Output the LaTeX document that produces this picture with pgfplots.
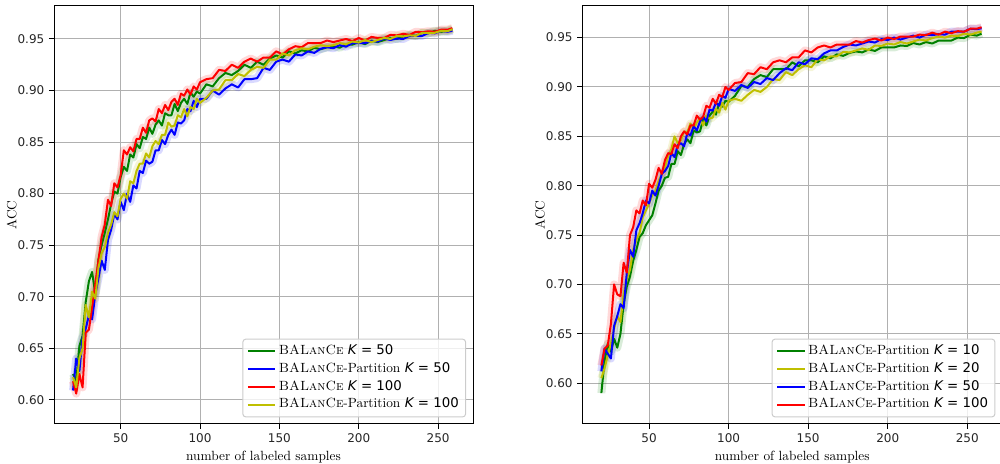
\documentclass[border=0pt]{standalone}
\usepackage{fontspec}
\usepackage{pgfplots}
\pgfplotsset{compat=1.18}
\usepackage{pgfplotstable}
\newfontfamily\dejavu{DejaVu Sans}
\definecolor{mplgreen}{rgb}{0,0.5,0}
\definecolor{mplblue}{rgb}{0,0,1}
\definecolor{mplred}{rgb}{1,0,0}
\definecolor{mplyellow}{rgb}{0.75,0.75,0}
\definecolor{gridgray}{HTML}{B0B0B0}
\definecolor{legedge}{HTML}{CCCCCC}
\newcommand{\bal}{\textsc{BALanCe}}
\newcommand{\K}[1]{{\dejavu\itshape K} {\dejavu = #1}}

\pgfplotstableread{
x g b r y
20 0.625 0.609 0.618 0.622
22 0.618 0.640 0.606 0.612
24 0.652 0.628 0.625 0.640
26 0.662 0.660 0.612 0.650
28 0.695 0.669 0.665 0.692
30 0.715 0.682 0.668 0.680
32 0.724 0.678 0.690 0.705
34 0.703 0.702 0.712 0.698
36 0.736 0.718 0.735 0.728
38 0.750 0.735 0.758 0.742
40 0.762 0.726 0.770 0.748
42 0.775 0.755 0.794 0.762
44 0.790 0.765 0.788 0.770
46 0.802 0.780 0.810 0.782
48 0.800 0.775 0.806 0.778
50 0.816 0.792 0.818 0.795
52 0.826 0.784 0.842 0.800
54 0.822 0.800 0.838 0.795
56 0.838 0.792 0.845 0.812
58 0.835 0.808 0.841 0.810
60 0.848 0.805 0.853 0.822
62 0.844 0.822 0.853 0.829
64 0.855 0.820 0.864 0.829
66 0.853 0.832 0.859 0.839
68 0.864 0.829 0.871 0.835
70 0.858 0.831 0.873 0.846
72 0.867 0.842 0.870 0.851
74 0.871 0.842 0.882 0.848
76 0.866 0.852 0.878 0.857
78 0.878 0.848 0.886 0.857
80 0.876 0.857 0.881 0.869
82 0.876 0.862 0.889 0.865
84 0.887 0.857 0.892 0.866
86 0.880 0.869 0.886 0.876
88 0.888 0.868 0.897 0.874
90 0.892 0.871 0.895 0.882
92 0.887 0.882 0.901 0.875
94 0.898 0.880 0.896 0.884
96 0.894 0.890 0.904 0.882
98 0.899 0.884 0.901 0.892
100 0.897 0.892 0.908 0.888
104 0.906 0.892 0.911 0.893
108 0.904 0.900 0.912 0.900
112 0.912 0.896 0.920 0.901
116 0.917 0.902 0.919 0.910
120 0.915 0.906 0.925 0.910
124 0.919 0.903 0.922 0.916
128 0.925 0.911 0.928 0.914
132 0.922 0.911 0.931 0.920
136 0.928 0.912 0.928 0.923
140 0.925 0.922 0.932 0.922
144 0.931 0.920 0.932 0.930
148 0.934 0.928 0.938 0.930
152 0.932 0.930 0.935 0.936
156 0.938 0.928 0.940 0.934
160 0.936 0.935 0.943 0.939
164 0.939 0.934 0.942 0.941
168 0.938 0.938 0.946 0.940
172 0.9415 0.9365 0.946 0.9425
176 0.940 0.9405 0.946 0.944
180 0.942 0.942 0.9485 0.943
184 0.943 0.941 0.947 0.944
188 0.9415 0.944 0.9485 0.946
192 0.945 0.9425 0.950 0.945
196 0.9445 0.946 0.948 0.9475
200 0.947 0.946 0.951 0.9465
204 0.945 0.946 0.9485 0.949
208 0.9485 0.948 0.952 0.947
212 0.947 0.9475 0.951 0.949
216 0.949 0.9505 0.951 0.951
220 0.951 0.949 0.954 0.950
224 0.950 0.9505 0.9535 0.953
228 0.9525 0.950 0.955 0.9525
232 0.954 0.953 0.954 0.9535
236 0.953 0.953 0.957 0.953
240 0.956 0.953 0.9565 0.956
244 0.9555 0.956 0.9575 0.956
248 0.958 0.9555 0.957 0.956
252 0.957 0.958 0.959 0.958
256 0.958 0.957 0.959 0.9575
259 0.9595 0.958 0.9605 0.9595
}\leftdata

\pgfplotstableread{
x g y b r
20 0.590 0.605 0.612 0.618
22 0.622 0.615 0.635 0.635
24 0.640 0.628 0.630 0.638
26 0.632 0.640 0.625 0.660
28 0.645 0.655 0.658 0.700
30 0.636 0.668 0.668 0.690
32 0.650 0.662 0.680 0.688
34 0.680 0.690 0.676 0.722
36 0.698 0.705 0.712 0.712
38 0.708 0.715 0.735 0.750
40 0.724 0.735 0.728 0.758
42 0.735 0.745 0.755 0.775
44 0.748 0.752 0.762 0.772
46 0.752 0.768 0.772 0.785
48 0.760 0.775 0.785 0.780
50 0.765 0.782 0.782 0.802
52 0.770 0.790 0.795 0.798
54 0.782 0.795 0.790 0.806
56 0.795 0.805 0.800 0.818
58 0.800 0.812 0.812 0.812
60 0.808 0.818 0.815 0.826
62 0.809 0.830 0.820 0.833
64 0.822 0.837 0.833 0.832
66 0.822 0.850 0.829 0.842
68 0.835 0.843 0.841 0.838
70 0.831 0.846 0.843 0.850
72 0.842 0.855 0.840 0.855
74 0.847 0.854 0.853 0.852
76 0.843 0.863 0.851 0.861
78 0.856 0.857 0.860 0.861
80 0.854 0.864 0.856 0.871
82 0.855 0.868 0.865 0.867
84 0.867 0.861 0.870 0.870
86 0.861 0.871 0.865 0.881
88 0.871 0.868 0.877 0.879
90 0.875 0.869 0.876 0.888
92 0.872 0.878 0.884 0.883
94 0.883 0.874 0.881 0.892
96 0.880 0.884 0.891 0.890
98 0.886 0.877 0.889 0.900
100 0.885 0.886 0.898 0.897
104 0.891 0.888 0.896 0.904
108 0.901 0.886 0.902 0.905
112 0.900 0.892 0.899 0.914
116 0.908 0.897 0.905 0.913
120 0.912 0.895 0.903 0.920
124 0.910 0.900 0.909 0.918
128 0.918 0.908 0.907 0.925
132 0.918 0.907 0.914 0.927
136 0.918 0.915 0.919 0.925
140 0.925 0.912 0.917 0.930
144 0.921 0.918 0.925 0.930
148 0.927 0.922 0.923 0.937
152 0.927 0.920 0.929 0.935
156 0.925 0.928 0.928 0.940
160 0.931 0.927 0.934 0.942
164 0.929 0.931 0.937 0.940
168 0.933 0.931 0.937 0.943
172 0.9315 0.9355 0.9405 0.943
176 0.9345 0.935 0.943 0.943
180 0.936 0.937 0.942 0.9465
184 0.935 0.939 0.944 0.945
188 0.938 0.9375 0.946 0.9475
192 0.9365 0.942 0.945 0.949
196 0.940 0.9415 0.9485 0.947
200 0.940 0.944 0.9475 0.950
204 0.940 0.943 0.950 0.9485
208 0.942 0.9455 0.948 0.951
212 0.9415 0.944 0.950 0.951
216 0.9445 0.946 0.952 0.951
220 0.943 0.948 0.950 0.953
224 0.9455 0.947 0.953 0.9525
228 0.944 0.9495 0.9525 0.955
232 0.947 0.951 0.9535 0.953
236 0.947 0.950 0.953 0.956
240 0.947 0.952 0.956 0.9545
244 0.950 0.9515 0.956 0.9565
248 0.9495 0.954 0.956 0.956
252 0.953 0.953 0.959 0.959
256 0.952 0.955 0.9585 0.959
259 0.954 0.956 0.9595 0.9605
}\rightdata

\pgfplotsset{
  accstyle/.style={
    scale only axis,
    height=313.5pt,
    xmin=8, xmax=272,
    ymax=0.982,
    xtick={50,100,150,200,250},
    ytick={0.60,0.65,0.70,0.75,0.80,0.85,0.90,0.95},
    xtick pos=bottom, ytick pos=left,
    tick align=outside,
    major tick length=3.75pt,
    tick style={black, line width=0.75pt},
    axis line style={line width=0.75pt},
    grid=major,
    major grid style={gridgray, line width=0.75pt},
    /pgf/number format/assume math mode=true,
    ticklabel style={font=\dejavu\fontsize{9}{10}\selectfont, color=black!85},
    yticklabel style={/pgf/number format/.cd, fixed, fixed zerofill, precision=2},
    label style={font=\fontsize{10}{12}\selectfont},
    xlabel={number of labeled samples},
    ylabel={ACC},
    xlabel style={at={([yshift=-27.4pt]axis description cs:0.5,0)}, anchor=base, inner sep=0pt},
    ylabel style={at={([xshift=-27.75pt]axis description cs:0,0.5)}, anchor=south, inner sep=0pt},
    legend cell align=left,
    legend image code/.code={\draw[#1, line width=1.5pt] (0pt,0pt) -- (20.5pt,0pt);},
    legend style={at={(1,0)}, anchor=south east, xshift=-5.25pt, yshift=5pt,
      draw=legedge, line width=0.75pt, rounded corners=2pt,
      fill=white, fill opacity=0.8, text opacity=1,
      font=\fontsize{10}{12}\selectfont,
      inner xsep=3pt, inner ysep=2.5pt, row sep=0pt,
      nodes={inner ysep=2pt, text height=7pt, text depth=2.3pt}},
    halo/.style={line width=6pt, opacity=0.15, forget plot, line join=round},
    main/.style={line width=1.5pt, line join=round},
  }
}

\begin{document}
\begin{tikzpicture}
\begin{axis}[accstyle, at={(40.5pt,30pt)}, anchor=south west, width=314.25pt, ymin=0.5765]
\addplot[mplgreen, halo] table[x=x,y=g]{\leftdata};
\addplot[mplblue, halo] table[x=x,y=b]{\leftdata};
\addplot[mplred, halo] table[x=x,y=r]{\leftdata};
\addplot[mplyellow, halo] table[x=x,y=y]{\leftdata};
\addplot[mplgreen, main] table[x=x,y=g]{\leftdata};
\addlegendentry{\bal{} \K{50}}
\addplot[mplblue, main] table[x=x,y=b]{\leftdata};
\addlegendentry{\bal-Partition \K{50}}
\addplot[mplred, main] table[x=x,y=r]{\leftdata};
\addlegendentry{\bal{} \K{100}}
\addplot[mplyellow, main] table[x=x,y=y]{\leftdata};
\addlegendentry{\bal-Partition \K{100}}
\end{axis}
\begin{axis}[accstyle, at={(436.7pt,30pt)}, anchor=south west, width=315pt, ymin=0.5587]
\addplot[mplgreen, halo] table[x=x,y=g]{\rightdata};
\addplot[mplyellow, halo] table[x=x,y=y]{\rightdata};
\addplot[mplblue, halo] table[x=x,y=b]{\rightdata};
\addplot[mplred, halo] table[x=x,y=r]{\rightdata};
\addplot[mplgreen, main] table[x=x,y=g]{\rightdata};
\addlegendentry{\bal-Partition \K{10}}
\addplot[mplyellow, main] table[x=x,y=y]{\rightdata};
\addlegendentry{\bal-Partition \K{20}}
\addplot[mplblue, main] table[x=x,y=b]{\rightdata};
\addlegendentry{\bal-Partition \K{50}}
\addplot[mplred, main] table[x=x,y=r]{\rightdata};
\addlegendentry{\bal-Partition \K{100}}
\end{axis}
\pgfresetboundingbox
\useasboundingbox (0,0) rectangle (750pt,348pt);
\end{tikzpicture}
\end{document}
